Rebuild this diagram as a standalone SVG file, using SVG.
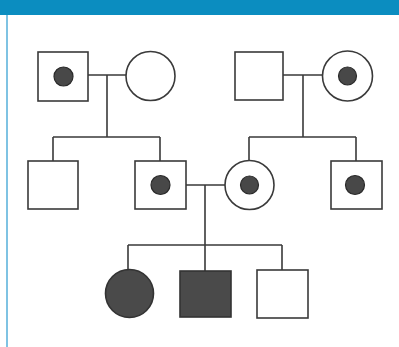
<svg xmlns="http://www.w3.org/2000/svg" width="399" height="347" viewBox="0 0 399 347">
<style>
.s{fill:#fff;stroke:#3a3a3a;stroke-width:1.6}
.f{fill:#4a4a4a;stroke:#333;stroke-width:1.6}
.d{fill:#484848;stroke:#2a2a2a;stroke-width:1.2}
.c{fill:none;stroke:#3a3a3a;stroke-width:1.6}
</style>
<rect x="0" y="0" width="399" height="347" fill="#fff"/>
<rect x="0" y="0" width="399" height="15" fill="#0b8dc0"/>
<rect x="6" y="15" width="2" height="332" fill="#7fc3e3"/>
<g id="connectors">
<path class="c" d="M88 75H126M107 75V137M53 137H160M53 137V161M160 137V161"/>
<path class="c" d="M283 75H322M303 75V137M249 137H356M249 137V161M356 137V161"/>
<path class="c" d="M186 185H225M205 185V245M128 245H282M128 245V270M205 245V271M282 245V270"/>
</g>
<g id="gf1"><rect class="s" x="38" y="52" width="50" height="49"/><circle class="d" cx="63.5" cy="76.5" r="9.5"/></g>
<g id="gm1"><circle class="s" cx="150.5" cy="76" r="24.5"/></g>
<g id="gf2"><rect class="s" x="235" y="52" width="48" height="48"/></g>
<g id="gm2"><circle class="s" cx="347.5" cy="76" r="25"/><circle class="d" cx="347.5" cy="76" r="9"/></g>
<g id="uncle"><rect class="s" x="28" y="161" width="50" height="48"/></g>
<g id="father"><rect class="s" x="135" y="161" width="51" height="48"/><circle class="d" cx="160.5" cy="185" r="9.5"/></g>
<g id="mother"><circle class="s" cx="249.5" cy="185" r="24.5"/><circle class="d" cx="249.5" cy="185" r="9"/></g>
<g id="mbrother"><rect class="s" x="331" y="161" width="51" height="48"/><circle class="d" cx="355" cy="185" r="9.5"/></g>
<g id="daughter"><circle class="f" cx="129.5" cy="293.5" r="24"/></g>
<g id="son1"><rect class="f" x="180" y="271" width="51" height="46"/></g>
<g id="son2"><rect class="s" x="257" y="270" width="51" height="48"/></g>
</svg>
